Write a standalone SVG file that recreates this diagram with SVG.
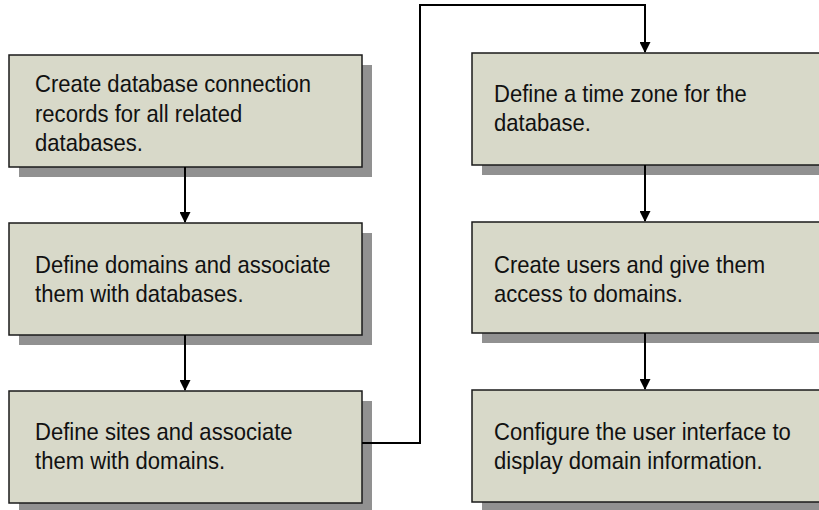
<svg xmlns="http://www.w3.org/2000/svg" width="819" height="510" viewBox="0 0 819 510">
<defs>
<style>
.box{fill:#d8d9c9;stroke:#1a1a1a;stroke-width:1.5}
.shadow{fill:#919191}
.t{font-family:"Liberation Sans",Arial,sans-serif;font-size:24px;fill:#111}
.conn{fill:none;stroke:#000;stroke-width:2}
</style>
<marker id="ah" markerWidth="11" markerHeight="11" refX="10" refY="5.5" orient="auto" markerUnits="userSpaceOnUse">
<path d="M0,0 L11,5.5 L0,11 Z" fill="#000"/>
</marker>
</defs>
<rect width="819" height="510" fill="#fff"/>
<g id="n1">
<rect class="shadow" x="19" y="65" width="353" height="112"/>
<rect class="box" x="9" y="55" width="353" height="112"/>
<text class="t" transform="translate(35,92) scale(0.92,1)">Create database connection</text>
<text class="t" transform="translate(35,122) scale(0.92,1)">records for all related</text>
<text class="t" transform="translate(35,151) scale(0.92,1)">databases.</text>
</g>
<g id="n2">
<rect class="shadow" x="19" y="233" width="353" height="112"/>
<rect class="box" x="9" y="223" width="353" height="112"/>
<text class="t" transform="translate(35,273) scale(0.92,1)">Define domains and associate</text>
<text class="t" transform="translate(35,302) scale(0.92,1)">them with databases.</text>
</g>
<g id="n3">
<rect class="shadow" x="19" y="401" width="353" height="112"/>
<rect class="box" x="9" y="391" width="353" height="112"/>
<text class="t" transform="translate(35,440) scale(0.92,1)">Define sites and associate</text>
<text class="t" transform="translate(35,469) scale(0.92,1)">them with domains.</text>
</g>
<g id="n4">
<rect class="shadow" x="482" y="63" width="360" height="112"/>
<rect class="box" x="472" y="53" width="360" height="112"/>
<text class="t" transform="translate(494,102) scale(0.92,1)">Define a time zone for the</text>
<text class="t" transform="translate(494,131) scale(0.92,1)">database.</text>
</g>
<g id="n5">
<rect class="shadow" x="482" y="232" width="360" height="111"/>
<rect class="box" x="472" y="222" width="360" height="111"/>
<text class="t" transform="translate(494,273) scale(0.92,1)">Create users and give them</text>
<text class="t" transform="translate(494,302) scale(0.92,1)">access to domains.</text>
</g>
<g id="n6">
<rect class="shadow" x="482" y="400" width="360" height="112"/>
<rect class="box" x="472" y="390" width="360" height="112"/>
<text class="t" transform="translate(494,440) scale(0.92,1)">Configure the user interface to</text>
<text class="t" transform="translate(494,469) scale(0.92,1)">display domain information.</text>
</g>
<g id="connectors">
<path class="conn" d="M185,167 V222" marker-end="url(#ah)"/>
<path class="conn" d="M185,335 V390" marker-end="url(#ah)"/>
<path class="conn" d="M362,443 H420 V5 H645 V52" marker-end="url(#ah)"/>
<path class="conn" d="M645,165 V221" marker-end="url(#ah)"/>
<path class="conn" d="M645,333 V389" marker-end="url(#ah)"/>
</g>
</svg>
